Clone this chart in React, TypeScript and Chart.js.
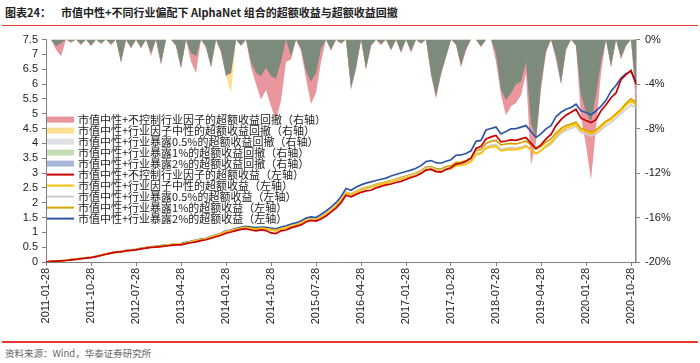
import React, { useEffect, useRef } from "react";
import { Chart, registerables } from "chart.js";

Chart.register(...registerables);

// ---------- categories (monthly, 2011-01 .. 2020-11) ----------
const START_YEAR = 2011;
const N_MONTHS = 119;
const CATEGORIES: string[] = Array.from({ length: N_MONTHS }, (_, i) => {
  const y = START_YEAR + Math.floor(i / 12);
  const m = (i % 12) + 1;
  return `${y}-${String(m).padStart(2, "0")}-28`;
});
const LABEL_EVERY = 9; // 2011-01-28, 2011-10-28, 2012-07-28 ...

// ---------- left axis ----------
const Y_MIN = 0;
const Y_MAX = 7.5;
const Y_STEP = 0.5;
// ---------- right axis (%) ----------
const Y2_MIN = -20;
const Y2_MAX = 0;
const Y2_STEP = 4;

const TITLE = "图表24：";
const TITLE_REST = "市值中性+不同行业偏配下 AlphaNet 组合的超额收益与超额收益回撤";
const SOURCE = "资料来源：Wind，华泰证券研究所";

const SERIES_NAMES = [
  "市值中性+不控制行业因子的超额收益回撤（右轴）",
  "市值中性+行业因子中性的超额收益回撤（右轴）",
  "市值中性+行业暴露0.5%的超额收益回撤（右轴）",
  "市值中性+行业暴露1%的超额收益回撤（右轴）",
  "市值中性+行业暴露2%的超额收益回撤（右轴）",
  "市值中性+不控制行业因子的超额收益（左轴）",
  "市值中性+行业因子中性的超额收益（左轴）",
  "市值中性+行业暴露0.5%的超额收益（左轴）",
  "市值中性+行业暴露1%的超额收益（左轴）",
  "市值中性+行业暴露2%的超额收益（左轴）",
];

// ---------- excess return lines (left axis) ----------
const EX_NOCTRL = [
  0, 0.02, 0.03, 0.04, 0.05, 0.07, 0.09, 0.11, 0.13, 0.15,
  0.18, 0.22, 0.26, 0.3, 0.33, 0.34, 0.37, 0.39, 0.41, 0.44,
  0.47, 0.49, 0.5, 0.52, 0.54, 0.56, 0.58, 0.58, 0.62, 0.65,
  0.68, 0.72, 0.75, 0.8, 0.85, 0.9, 0.97, 1.01, 1.06, 1.1,
  1.12, 1.08, 1.05, 1.08, 1.06, 0.98, 0.96, 1.05, 1.08, 1.15,
  1.2, 1.25, 1.35, 1.4, 1.38, 1.45, 1.55, 1.68, 1.82, 2.0,
  2.25, 2.2, 2.28, 2.35, 2.4, 2.42, 2.5, 2.55, 2.6, 2.63,
  2.68, 2.72, 2.78, 2.85, 2.9, 2.98, 3.1, 3.12, 3.05, 3.03,
  3.12, 3.18, 3.3, 3.33, 3.4, 3.5, 3.83, 3.9, 4.15, 4.22,
  4.27, 4.05, 4.08, 4.12, 4.1, 4.15, 4.2, 4.0, 3.83, 3.95,
  4.15, 4.3, 4.6, 4.8, 4.95, 5.05, 5.15, 4.85, 4.77, 4.7,
  4.8, 5.1, 5.3, 5.54, 5.7, 6.15, 6.32, 6.46, 6.0,
];
const EX_NEUTRAL = [
  0, 0.02, 0.03, 0.04, 0.06, 0.08, 0.1, 0.12, 0.14, 0.16,
  0.19, 0.23, 0.27, 0.3, 0.33, 0.35, 0.38, 0.4, 0.42, 0.45,
  0.48, 0.5, 0.52, 0.54, 0.56, 0.58, 0.6, 0.6, 0.64, 0.68,
  0.72, 0.75, 0.78, 0.84, 0.89, 0.95, 1.02, 1.05, 1.09, 1.13,
  1.16, 1.13, 1.11, 1.13, 1.12, 1.08, 1.05, 1.11, 1.15, 1.2,
  1.24, 1.3, 1.4, 1.43, 1.41, 1.5, 1.6, 1.73, 1.87, 2.07,
  2.32, 2.27, 2.35, 2.43, 2.48, 2.52, 2.58, 2.62, 2.66, 2.7,
  2.75, 2.8, 2.84, 2.88, 2.93, 3.0, 3.12, 3.14, 3.07, 3.05,
  3.12, 3.15, 3.25, 3.26, 3.3, 3.38, 3.62, 3.66, 3.82, 3.88,
  3.9, 3.75, 3.78, 3.8, 3.79, 3.83, 3.9, 3.78, 3.65, 3.76,
  3.92, 4.03, 4.25, 4.42, 4.52, 4.58, 4.65, 4.45, 4.4, 4.33,
  4.4, 4.55, 4.7, 4.8, 4.95, 5.1, 5.28, 5.43, 5.3,
];
const EX_05PCT = [
  0, 0.02, 0.03, 0.04, 0.06, 0.08, 0.1, 0.12, 0.14, 0.16,
  0.19, 0.23, 0.27, 0.3, 0.33, 0.35, 0.38, 0.4, 0.42, 0.45,
  0.48, 0.5, 0.52, 0.54, 0.56, 0.58, 0.6, 0.6, 0.64, 0.68,
  0.72, 0.75, 0.78, 0.84, 0.89, 0.95, 1.02, 1.05, 1.09, 1.13,
  1.16, 1.13, 1.11, 1.13, 1.12, 1.08, 1.05, 1.11, 1.15, 1.2,
  1.25, 1.31, 1.41, 1.44, 1.42, 1.51, 1.62, 1.75, 1.89, 2.09,
  2.34, 2.29, 2.37, 2.45, 2.5, 2.54, 2.6, 2.64, 2.68, 2.73,
  2.78, 2.83, 2.87, 2.92, 2.97, 3.04, 3.16, 3.18, 3.11, 3.09,
  3.15, 3.18, 3.28, 3.3, 3.35, 3.42, 3.66, 3.7, 3.88, 3.94,
  3.96, 3.8, 3.83, 3.85, 3.84, 3.88, 3.94, 3.8, 3.66, 3.74,
  3.88, 3.98, 4.18, 4.34, 4.44, 4.5, 4.57, 4.37, 4.32, 4.25,
  4.32, 4.46, 4.6, 4.7, 4.85, 5.0, 5.15, 5.3, 5.2,
];
const EX_1PCT = [
  0, 0.02, 0.03, 0.04, 0.06, 0.08, 0.1, 0.12, 0.14, 0.16,
  0.19, 0.23, 0.27, 0.3, 0.33, 0.35, 0.38, 0.4, 0.42, 0.45,
  0.48, 0.5, 0.52, 0.54, 0.56, 0.58, 0.6, 0.6, 0.64, 0.68,
  0.72, 0.75, 0.78, 0.84, 0.89, 0.95, 1.02, 1.06, 1.1, 1.14,
  1.17, 1.14, 1.12, 1.14, 1.13, 1.1, 1.07, 1.13, 1.17, 1.22,
  1.26, 1.32, 1.42, 1.45, 1.43, 1.52, 1.63, 1.76, 1.9, 2.1,
  2.35, 2.3, 2.38, 2.47, 2.52, 2.56, 2.62, 2.66, 2.7, 2.75,
  2.8, 2.86, 2.9, 2.95, 3.0, 3.08, 3.2, 3.22, 3.15, 3.13,
  3.22, 3.25, 3.35, 3.37, 3.42, 3.5, 3.75, 3.8, 4.0, 4.07,
  4.1, 3.95, 3.98, 4.0, 3.98, 4.02, 4.08, 3.95, 3.8, 3.9,
  4.05, 4.15, 4.35, 4.5, 4.6, 4.65, 4.71, 4.5, 4.45, 4.38,
  4.45, 4.6, 4.75, 4.85, 5.0, 5.15, 5.35, 5.5, 5.38,
];
const EX_2PCT = [
  0, 0.02, 0.03, 0.04, 0.06, 0.08, 0.1, 0.12, 0.14, 0.16,
  0.19, 0.23, 0.27, 0.31, 0.34, 0.36, 0.39, 0.41, 0.43, 0.46,
  0.49, 0.51, 0.53, 0.55, 0.57, 0.59, 0.61, 0.62, 0.66, 0.7,
  0.74, 0.77, 0.8, 0.86, 0.91, 0.97, 1.04, 1.08, 1.13, 1.17,
  1.2, 1.18, 1.16, 1.18, 1.17, 1.14, 1.12, 1.18, 1.22, 1.28,
  1.32, 1.38, 1.48, 1.52, 1.5, 1.6, 1.72, 1.85, 2.0, 2.2,
  2.48, 2.42, 2.52, 2.6, 2.66, 2.7, 2.75, 2.79, 2.83, 2.9,
  2.95, 3.0, 3.05, 3.1, 3.16, 3.25, 3.39, 3.42, 3.35, 3.33,
  3.4, 3.45, 3.6, 3.61, 3.66, 3.75, 4.07, 4.1, 4.45, 4.5,
  4.55, 4.32, 4.4, 4.49, 4.5, 4.55, 4.6, 4.4, 4.2, 4.32,
  4.49, 4.6, 4.9, 5.05, 5.15, 5.21, 5.32, 5.1, 5.04, 4.96,
  5.1, 5.25, 5.45, 5.76, 5.95, 6.2, 6.35, 6.43, 6.08,
];

// ---------- drawdowns (right axis, %) ----------
const DD_NOCTRL = [
  0, 0, -0.9, -1.5, 0, -0.3, 0, -0.5, 0, -0.6,
  0, -0.4, 0, -0.5, 0, -2.1, 0, -0.8, 0, -0.8,
  0, -1.5, 0, -2.3, 0, 0, -0.6, -2.6, 0, -2.0,
  -3.0, 0, -0.8, -2.5, 0, -1.2, -3.3, -3.0, 0, -0.6,
  0, -2.5, -4.0, -5.4, -4.5, -6.0, -7.3, -5.5, -2.0, -1.8,
  0, -1.0, -3.5, -5.8, -4.8, -2.0, 0, -1.0, 0, -0.4,
  0, -4.5, -2.7, 0, -2.7, -0.6, 0, -0.5, 0, -1.0,
  0, -1.2, 0, -1.2, 0, -0.4, 0, -3.2, -5.3, -3.2,
  -1.6, 0, -0.5, -2.5, -1.0, 0, 0, -0.7, 0, 0,
  -2.0, -5.0, -6.8, -6.0, -5.7, -5.0, -3.0, -11.3, -9.2, -4.5,
  -1.2, 0, -1.8, -4.0, -1.0, 0, -0.6, -7.0, -9.5, -12.6,
  -8.0, -3.0, 0, -2.5, 0, -1.8, -0.6, 0, -6.0,
];
const DD_NEUTRAL = [
  0, 0, -0.6, -0.3, 0, -0.2, 0, -0.4, 0, -0.5,
  0, -0.3, 0, -0.4, 0, -2.0, 0, -0.7, 0, -0.7,
  0, -1.2, 0, -2.1, 0, 0, -0.5, -2.5, 0, -1.2,
  -1.5, 0, -0.6, -2.4, 0, -1.0, -3.2, -4.8, 0, -0.5,
  0, -2.0, -3.0, -3.3, -2.5, -3.3, -3.5, -2.0, 0, -1.5,
  0, -0.8, -2.8, -3.8, -3.0, -0.8, 0, -0.9, 0, -0.3,
  0, -4.3, -2.5, 0, -2.6, -0.5, 0, -0.4, 0, -0.9,
  0, -1.1, 0, -1.0, 0, -0.3, 0, -3.0, -5.1, -3.0,
  -1.5, 0, -0.4, -2.3, -0.8, 0, 0, -0.6, 0, 0,
  -1.2, -4.5, -5.8, -4.8, -4.0, -3.8, -2.0, -7.5, -8.9, -4.0,
  -1.0, 0, -1.5, -3.9, -0.8, 0, -0.5, -5.0, -6.5, -7.4,
  -5.0, -2.0, 0, -2.4, 0, -1.6, -0.5, 0, -4.5,
];
const DD_05PCT = [
  0, 0, -0.6, -0.3, 0, -0.2, 0, -0.4, 0, -0.5,
  0, -0.3, 0, -0.4, 0, -2.0, 0, -0.7, 0, -0.7,
  0, -1.2, 0, -2.1, 0, 0, -0.5, -2.5, 0, -1.2,
  -1.5, 0, -0.6, -2.4, 0, -1.0, -3.2, -3.0, 0, -0.5,
  0, -2.0, -3.0, -3.3, -2.5, -3.3, -3.5, -2.0, 0, -1.5,
  0, -0.8, -2.8, -3.8, -3.0, -0.8, 0, -0.9, 0, -0.3,
  0, -4.3, -2.5, 0, -2.7, -0.5, 0, -0.4, 0, -0.9,
  0, -1.1, 0, -1.0, 0, -0.3, 0, -3.0, -5.1, -3.0,
  -1.5, 0, -0.4, -2.3, -0.8, 0, 0, -0.6, 0, 0,
  -1.2, -4.5, -5.4, -4.8, -4.0, -3.8, -2.0, -7.5, -8.9, -4.0,
  -1.0, 0, -1.5, -3.9, -0.8, 0, -0.5, -5.0, -6.5, -7.4,
  -5.0, -2.0, 0, -2.4, 0, -1.6, -0.5, 0, -4.5,
];
const DD_1PCT = [
  0, 0, -0.6, -0.3, 0, -0.2, 0, -0.4, 0, -0.5,
  0, -0.3, 0, -0.4, 0, -2.0, 0, -0.7, 0, -0.7,
  0, -1.2, 0, -2.1, 0, 0, -0.5, -2.5, 0, -1.2,
  -1.5, 0, -0.6, -2.4, 0, -1.0, -3.2, -3.0, 0, -0.5,
  0, -2.0, -3.0, -3.3, -2.5, -3.3, -3.5, -2.0, 0, -1.5,
  0, -0.8, -2.8, -3.8, -3.0, -0.8, 0, -0.9, 0, -0.3,
  0, -4.3, -2.5, 0, -2.6, -0.5, 0, -0.4, 0, -0.9,
  0, -1.1, 0, -1.0, 0, -0.3, 0, -3.0, -5.1, -3.0,
  -1.5, 0, -0.4, -2.3, -0.8, 0, 0, -0.6, 0, 0,
  -1.2, -4.5, -5.4, -4.8, -4.0, -3.8, -2.0, -7.5, -8.9, -4.0,
  -1.0, 0, -1.5, -3.9, -0.8, 0, -0.5, -5.0, -6.5, -7.4,
  -5.0, -2.0, 0, -2.4, 0, -1.6, -0.5, 0, -4.5,
];
const DD_2PCT = [
  0, 0, -0.6, -0.3, 0, -0.2, 0, -0.4, 0, -0.5,
  0, -0.3, 0, -0.4, 0, -2.0, 0, -0.7, 0, -0.7,
  0, -1.2, 0, -2.2, 0, 0, -0.5, -2.6, 0, -1.2,
  -1.5, 0, -0.6, -2.5, 0, -1.0, -3.3, -3.0, 0, -0.5,
  0, -2.2, -3.4, -3.6, -2.6, -3.3, -3.5, -2.0, 0, -1.5,
  0, -0.8, -2.8, -3.8, -3.0, -0.8, 0, -0.9, 0, -0.3,
  0, -4.5, -2.5, 0, -2.7, -0.5, 0, -0.4, 0, -0.9,
  0, -1.1, 0, -1.0, 0, -0.3, 0, -3.0, -5.1, -3.0,
  -1.5, 0, -0.4, -2.4, -0.8, 0, 0, -0.6, 0, 0,
  -1.2, -4.5, -5.4, -4.8, -4.0, -3.8, -2.0, -7.8, -8.9, -4.0,
  -1.0, 0, -1.5, -3.9, -0.8, 0, -0.5, -5.0, -6.5, -7.4,
  -5.0, -2.0, 0, -2.4, 0, -1.6, -0.5, 0, -4.5,
];

// ---------- styles ----------
const FILL_COLORS = [
  "rgb(233,150,156)",
  "rgb(255,224,146)",
  "rgb(222,225,229)",
  "rgb(196,222,180)",
  "rgb(168,184,216)",
];
const OVERLAP_COLOR = "rgb(124,139,124)";
const LINE_COLORS = [
  "rgb(200,0,0)",
  "rgb(255,192,0)",
  "rgb(205,205,205)",
  "rgb(212,160,0)",
  "rgb(47,85,164)",
];
const FONT_LATIN = "'Liberation Sans', Arial, sans-serif";
const FONT_CJK = "'Noto Sans CJK SC', 'Liberation Sans', sans-serif";

const DD_SERIES = [DD_NOCTRL, DD_NEUTRAL, DD_05PCT, DD_1PCT, DD_2PCT];
const EX_SERIES = [EX_NOCTRL, EX_NEUTRAL, EX_05PCT, EX_1PCT, EX_2PCT];

const insideLegend = {
  id: "insideLegend",
  afterDatasetsDraw(chart: any) {
    const { ctx, chartArea } = chart;
    ctx.save();
    ctx.font = `11px ${FONT_CJK}`;
    ctx.textBaseline = "middle";
    ctx.textAlign = "left";
    SERIES_NAMES.forEach((name, k) => {
      const y = chartArea.top + 80 + k * 11;
      const x = chartArea.left + 1;
      if (k < 5) {
        ctx.fillStyle = FILL_COLORS[k];
        ctx.fillRect(x, y - 3, 27, 6);
      } else {
        ctx.strokeStyle = LINE_COLORS[k - 5];
        ctx.lineWidth = 2;
        ctx.beginPath();
        ctx.moveTo(x, y);
        ctx.lineTo(x + 27, y);
        ctx.stroke();
      }
      ctx.fillStyle = "#222";
      ctx.fillText(name, x + 31, y + 0.5);
    });
    ctx.restore();
  },
};

export default function App() {
  const canvasRef = useRef<HTMLCanvasElement | null>(null);

  useEffect(() => {
    if (!canvasRef.current) return;
    const overlap = CATEGORIES.map((_, i) =>
      Math.max(...DD_SERIES.map((s) => s[i]))
    );

    const ddDatasets = DD_SERIES.map((data, k) => ({
      type: "line" as const,
      label: SERIES_NAMES[k],
      data,
      yAxisID: "y2",
      borderWidth: 0,
      borderColor: "transparent",
      backgroundColor: FILL_COLORS[k],
      fill: "origin",
      pointRadius: 0,
      tension: 0,
      order: 2,
    }));
    const overlapDataset = {
      type: "line" as const,
      label: "",
      data: overlap,
      yAxisID: "y2",
      borderWidth: 0,
      borderColor: "transparent",
      backgroundColor: OVERLAP_COLOR,
      fill: "origin",
      pointRadius: 0,
      tension: 0,
      order: 1,
    };
    const exDatasets = EX_SERIES.map((data, k) => ({
      type: "line" as const,
      label: SERIES_NAMES[k + 5],
      data,
      yAxisID: "y",
      borderWidth: 1.7,
      borderColor: LINE_COLORS[k],
      backgroundColor: LINE_COLORS[k],
      fill: false,
      pointRadius: 0,
      tension: 0,
      order: 0,
    }));

    const chart = new Chart(canvasRef.current, {
      type: "line",
      data: {
        labels: CATEGORIES,
        datasets: [...ddDatasets, overlapDataset, ...exDatasets] as any,
      },
      plugins: [insideLegend],
      options: {
        animation: false,
        responsive: false,
        maintainAspectRatio: false,
        layout: { padding: { top: 8, left: 0, right: 0, bottom: 0 } },
        plugins: {
          legend: { display: false },
          tooltip: { enabled: false },
        },
        scales: {
          x: {
            type: "category",
            offset: false,
            grid: {
              display: true,
              drawOnChartArea: false,
              drawTicks: true,
              tickLength: 4,
              color: "#808080",
            },
            border: { display: true, color: "#808080", width: 1 },
            ticks: {
              autoSkip: false,
              minRotation: 90,
              maxRotation: 90,
              padding: 2,
              color: "#222",
              font: { family: FONT_LATIN, size: 11 },
            },
            afterBuildTicks: (scale: any) => {
              scale.ticks = scale.ticks.filter(
                (t: any) => t.value % LABEL_EVERY === 0
              );
            },
            afterFit: (scale: any) => {
              scale.height = 72;
            },
          },
          y: {
            position: "left",
            min: Y_MIN,
            max: Y_MAX,
            ticks: {
              stepSize: Y_STEP,
              autoSkip: false,
              padding: 4,
              color: "#222",
              font: { family: FONT_LATIN, size: 11 },
              callback: (v: any) => `${Math.round(Number(v) * 10) / 10}`,
            },
            grid: {
              drawOnChartArea: false,
              drawTicks: true,
              tickLength: 4,
              color: "#808080",
            },
            border: { display: true, color: "#808080", width: 1 },
            afterFit: (scale: any) => {
              scale.width = 46;
            },
          },
          y2: {
            position: "right",
            min: Y2_MIN,
            max: Y2_MAX,
            ticks: {
              stepSize: Y2_STEP,
              autoSkip: false,
              padding: 5,
              color: "#222",
              font: { family: FONT_LATIN, size: 11 },
              callback: (v: any) => `${v}%`,
            },
            grid: {
              drawOnChartArea: false,
              drawTicks: true,
              tickLength: 4,
              color: "#808080",
            },
            border: { display: true, color: "#808080", width: 1.5 },
            afterFit: (scale: any) => {
              scale.width = 64;
            },
          },
        },
      } as any,
    });
    return () => chart.destroy();
  }, []);

  return (
    <div
      style={{
        position: "fixed",
        left: 0,
        top: 0,
        width: 700,
        height: 363,
        background: "#fff",
        overflow: "hidden",
      }}
    >
      <div
        style={{
          position: "absolute",
          left: 5,
          top: 5,
          fontFamily: FONT_CJK,
          fontWeight: 700,
          fontSize: 11,
          lineHeight: "14px",
          color: "#222",
          whiteSpace: "nowrap",
        }}
      >
        <span>{TITLE}</span>
        <span style={{ marginLeft: 10 }}>{TITLE_REST}</span>
      </div>
      <div
        style={{
          position: "absolute",
          left: 2,
          top: 25,
          width: 696,
          height: 1,
          background: "#E8382F",
        }}
      />
      <canvas
        ref={canvasRef}
        width={700}
        height={306}
        style={{ position: "absolute", left: 0, top: 28, width: 700, height: 306 }}
      />
      <div
        style={{
          position: "absolute",
          left: 2,
          top: 341,
          width: 696,
          height: 2,
          background: "#E8382F",
        }}
      />
      <div
        style={{
          position: "absolute",
          left: 5,
          top: 347,
          fontFamily: FONT_CJK,
          fontSize: 9.5,
          lineHeight: "13px",
          color: "#666",
          whiteSpace: "nowrap",
        }}
      >
        {SOURCE}
      </div>
    </div>
  );
}
